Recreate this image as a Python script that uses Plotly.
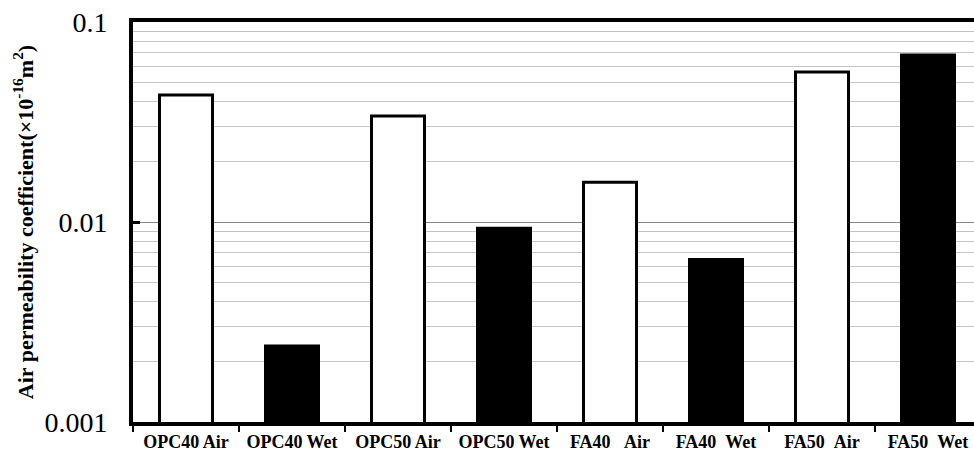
import plotly.graph_objects as go

# Air permeability coefficient per mix / curing condition
mixes = ["OPC40", "OPC40", "OPC50", "OPC50", "FA40", "FA40", "FA50", "FA50"]
curing = ["Air", "Wet", "Air", "Wet", "Air", "Wet", "Air", "Wet"]
labels = ["OPC40 Air", "OPC40 Wet", "OPC50 Air", "OPC50 Wet",
          "FA40\u00a0\u00a0\u00a0Air", "FA40\u00a0\u00a0Wet",
          "FA50\u00a0\u00a0Air", "FA50\u00a0\u00a0Wet"]
permeability = [0.0431, 0.0024, 0.0339, 0.0093, 0.0158, 0.0065, 0.0562, 0.0684]

y_ticks = [0.001, 0.01, 0.1]
y_tick_text = ["0.001", "0.01", "0.1"]
minor_grid = [m * 10 ** e for e in (-3, -2) for m in range(2, 10)]

fill = ["white" if c == "Air" else "black" for c in curing]

fig = go.Figure(go.Bar(
    x=labels,
    y=permeability,
    width=0.5,
    marker=dict(color=fill, line=dict(color="black", width=3)),
))

serif = "Liberation Serif, Times New Roman, serif"

fig.update_layout(
    width=974, height=458,
    margin=dict(l=133, r=0, t=22, b=36),
    paper_bgcolor="white", plot_bgcolor="white",
    showlegend=False,
    font=dict(family=serif, color="black"),
    xaxis=dict(
        type="category",
        range=[-0.5, 7.434],
        showline=True, linecolor="black", linewidth=4, mirror=True,
        ticks="outside", tickson="boundaries", ticklen=6, tickwidth=1.5,
        tickcolor="black",
        tickfont=dict(family=serif, size=18, color="black"),
        tickprefix="<b>", ticksuffix="</b>",
        showgrid=False,
    ),
    yaxis=dict(
        type="log",
        range=[-3, -1],
        tickvals=y_ticks, ticktext=y_tick_text,
        tickfont=dict(family=serif, size=28, color="black"),
        ticklabelstandoff=16,
        showline=True, linecolor="black", linewidth=4,
        ticks="inside", ticklen=7, tickwidth=3, tickcolor="black",
        showgrid=True, gridcolor="#8a8a8a", gridwidth=1,
        minor=dict(tickvals=minor_grid, showgrid=True,
                   gridcolor="#c4c4c4", gridwidth=1.2, ticks=""),
        zeroline=False,
        title=dict(
            text="<b>Air permeability coefficient(\u00d710<sup>-16</sup>m<sup>2</sup>)</b>",
            font=dict(family=serif, size=22, color="black"),
            standoff=6,
        ),
    ),
)

fig.write_html("out.html")
